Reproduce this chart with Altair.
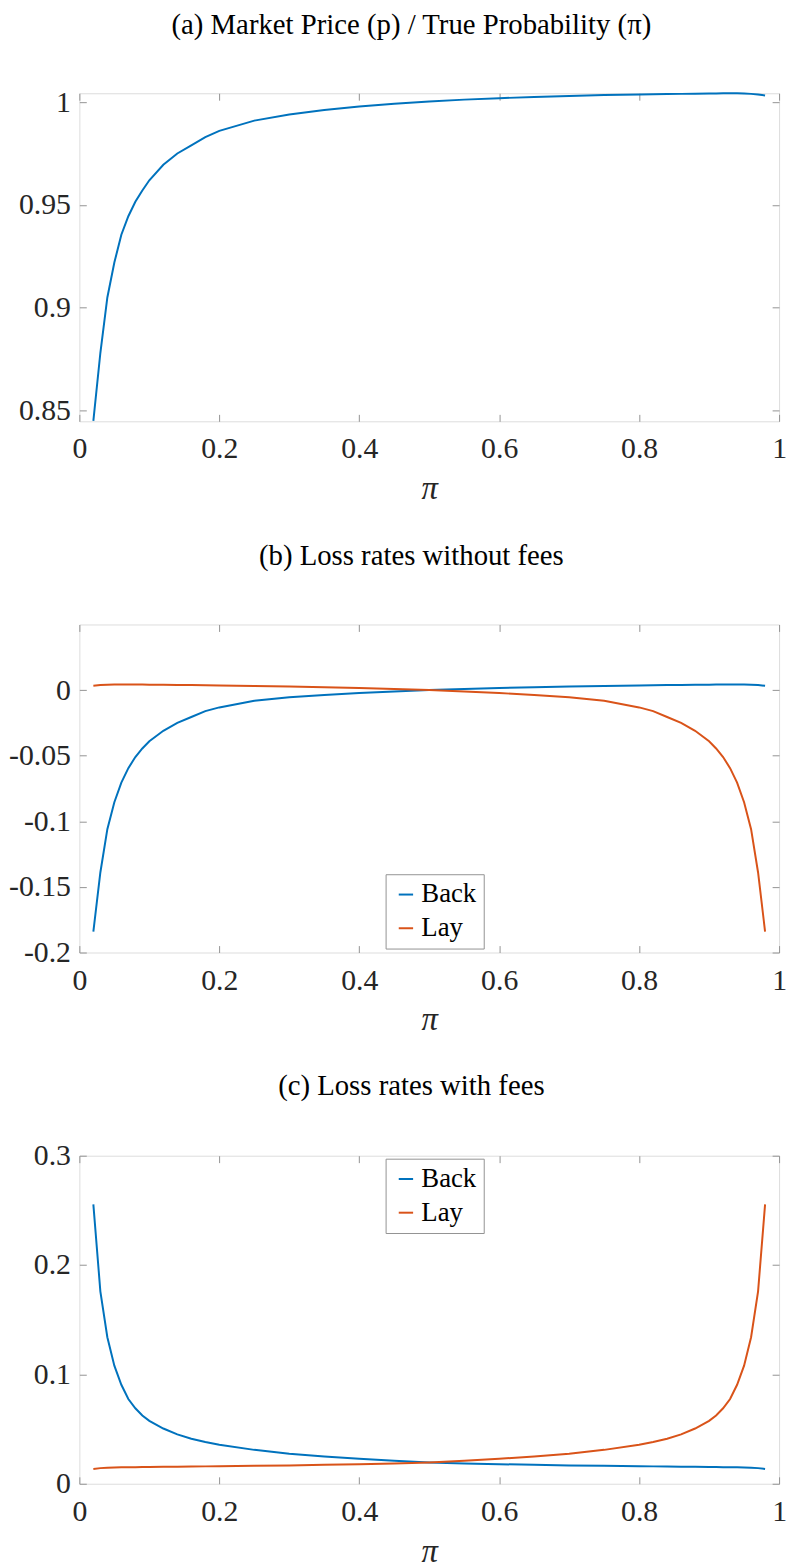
import altair as alt
import pandas as pd

# ---------------- data ----------------
x_vals = [0.02, 0.03, 0.04, 0.05, 0.06, 0.07, 0.08, 0.09, 0.10, 0.12, 0.14, 0.16,
          0.18, 0.20, 0.25, 0.30, 0.35, 0.40, 0.45, 0.50, 0.55, 0.60, 0.65, 0.70,
          0.75, 0.80, 0.82, 0.84, 0.86, 0.88, 0.90, 0.91, 0.92, 0.93, 0.94, 0.95,
          0.96, 0.97, 0.98]

# (a) market price / true probability
ratio = [0.8450, 0.8780, 0.9050, 0.9220, 0.9355, 0.9445, 0.9515, 0.9570, 0.9620,
         0.9695, 0.9750, 0.9790, 0.9830, 0.9860, 0.9910, 0.9940, 0.9962, 0.9979,
         0.9992, 1.0003, 1.0012, 1.0019, 1.0025, 1.0030, 1.0034, 1.0037, 1.0038,
         1.0039, 1.0040, 1.0041, 1.0042, 1.0042, 1.0043, 1.0043, 1.0043, 1.0042,
         1.0040, 1.0037, 1.0032]

# (b) loss rates without fees
back_nofee = [-0.1840, -0.1390, -0.1060, -0.0855, -0.0705, -0.0595, -0.0510, -0.0445,
              -0.0390, -0.0310, -0.0250, -0.0205, -0.0160, -0.0132, -0.0082, -0.0055,
              -0.0038, -0.0022, -0.0010, 0.0000, 0.0009, 0.0016, 0.0022, 0.0027,
              0.0031, 0.0035, 0.0036, 0.0038, 0.0039, 0.0040, 0.0041, 0.0042,
              0.0042, 0.0043, 0.0043, 0.0042, 0.0041, 0.0038, 0.0033]
lay_nofee = [0.0033, 0.0038, 0.0041, 0.0042, 0.0043, 0.0043, 0.0042, 0.0042, 0.0041,
             0.0040, 0.0039, 0.0038, 0.0036, 0.0035, 0.0031, 0.0027, 0.0022, 0.0016,
             0.0009, 0.0000, -0.0010, -0.0022, -0.0038, -0.0055, -0.0082, -0.0132,
             -0.0160, -0.0205, -0.0250, -0.0310, -0.0390, -0.0445, -0.0510, -0.0595,
             -0.0705, -0.0855, -0.1060, -0.1390, -0.1840]

# (c) loss rates with fees
back_fee = [0.2555, 0.1760, 0.1340, 0.1080, 0.0905, 0.0775, 0.0690, 0.0625, 0.0575,
            0.0505, 0.0452, 0.0412, 0.0382, 0.0356, 0.0310, 0.0275, 0.0250, 0.0228,
            0.0210, 0.0195, 0.0186, 0.0179, 0.0173, 0.0168, 0.0164, 0.0160, 0.0159,
            0.0157, 0.0156, 0.0155, 0.0154, 0.0153, 0.0152, 0.0151, 0.0150, 0.0149,
            0.0147, 0.0143, 0.0135]
lay_fee = [0.0135, 0.0143, 0.0147, 0.0149, 0.0150, 0.0151, 0.0152, 0.0153, 0.0154,
           0.0155, 0.0156, 0.0157, 0.0159, 0.0160, 0.0164, 0.0168, 0.0173, 0.0179,
           0.0186, 0.0195, 0.0210, 0.0228, 0.0250, 0.0275, 0.0310, 0.0356, 0.0382,
           0.0412, 0.0452, 0.0505, 0.0575, 0.0625, 0.0690, 0.0775, 0.0905, 0.1080,
           0.1340, 0.1760, 0.2555]

series_names = ["Back", "Lay"]
titles = ["(a) Market Price (p) / True Probability (π)",
          "(b) Loss rates without fees",
          "(c) Loss rates with fees"]
x_ticks = [0, 0.2, 0.4, 0.6, 0.8, 1]
ya_ticks = [0.85, 0.9, 0.95, 1]
yb_ticks = [-0.2, -0.15, -0.1, -0.05, 0]
yc_ticks = [0, 0.1, 0.2, 0.3]

# ---------------- style ----------------
W, H = 706, 331
FONT = "Liberation Serif"
BLUE, ORANGE = "#0072BD", "#D95319"
GRAY = "#939393"
TXT = "#262626"
TICK = 7


def panel(df, title, y_domain, y_ticks, title_offset, color=None, legend_xy=None):
    xs = alt.Scale(domain=[0, 1], nice=False, zero=False)
    ys = alt.Scale(domain=y_domain, nice=False, zero=False)
    lab = "toString(datum.value)"

    x_main = alt.X("x:Q", scale=xs, axis=alt.Axis(
        values=x_ticks, labelExpr=lab, ticks=False, domain=False, grid=False,
        labelFont=FONT, labelFontSize=30, labelColor=TXT, labelPadding=13,
        labelFlush=False, title="π", titleFont=FONT, titleFontSize=33,
        titleFontStyle="italic", titleFontWeight="normal", titleColor=TXT,
        titlePadding=9))
    y_main = alt.Y("y:Q", scale=ys, axis=alt.Axis(
        values=y_ticks, labelExpr=lab, ticks=False, domain=False, grid=False,
        labelFont=FONT, labelFontSize=30, labelColor=TXT, labelPadding=9,
        labelFlush=False, title=None))

    def tick_axis(orient, values, offset):
        return alt.Axis(orient=orient, offset=offset, values=values, labels=False,
                        ticks=True, tickSize=TICK, tickColor=GRAY, tickWidth=1,
                        domain=False, grid=False, title=None)

    enc = dict(x=x_main, y=y_main)
    if color is None:
        main = alt.Chart(df).mark_line(color=BLUE, strokeWidth=2).encode(**enc)
    else:
        lx, ly = legend_xy
        main = alt.Chart(df).mark_line(strokeWidth=2).encode(
            **enc,
            color=alt.Color("series:N",
                            scale=alt.Scale(domain=series_names, range=[BLUE, ORANGE]),
                            legend=alt.Legend(
                                orient="none", legendX=lx, legendY=ly, title=None,
                                symbolType="stroke", symbolSize=210,
                                symbolStrokeWidth=2, labelFont=FONT,
                                labelFontSize=27, labelColor="#000",
                                labelOffset=2, strokeColor=GRAY,
                                fillColor="white", padding=7, rowPadding=6)),
            detail="series:N")

    t1 = alt.Chart(df).mark_line(opacity=0).encode(
        x=alt.X("x:Q", scale=xs, axis=tick_axis("top", x_ticks, -H)),
        y=alt.Y("y:Q", scale=ys, axis=tick_axis("right", y_ticks, -W)))
    t2 = alt.Chart(df).mark_line(opacity=0).encode(
        x=alt.X("x:Q", scale=xs, axis=tick_axis("bottom", x_ticks, -H)),
        y=alt.Y("y:Q", scale=ys, axis=tick_axis("left", y_ticks, -W)))

    return alt.layer(main, t1, t2).resolve_axis(x="independent", y="independent").properties(
        width=W, height=H,
        title=alt.TitleParams(title, font=FONT, fontSize=29, fontWeight="normal",
                              color="#000", anchor="middle", dx=-18, frame="group",
                              baseline="bottom", offset=title_offset))


df_a = pd.DataFrame({"x": x_vals, "y": ratio})
df_b = pd.concat([
    pd.DataFrame({"x": x_vals, "y": back_nofee, "series": "Back"}),
    pd.DataFrame({"x": x_vals, "y": lay_nofee, "series": "Lay"})])
df_c = pd.concat([
    pd.DataFrame({"x": x_vals, "y": back_fee, "series": "Back"}),
    pd.DataFrame({"x": x_vals, "y": lay_fee, "series": "Lay"})])

pa = panel(df_a, titles[0], [0.8448, 1.0043], ya_ticks, 19)
pb = panel(df_b, titles[1], [-0.2, 0.05], yb_ticks, 25, color=True, legend_xy=(309, 252))
pc = panel(df_c, titles[2], [0, 0.3], yc_ticks, 11, color=True, legend_xy=(309, 3))

chart = alt.vconcat(pa, pb, pc, spacing=205, bounds="flush").resolve_scale(
    color="independent"
).properties(
    padding={"left": 0, "top": -5, "right": 0, "bottom": -6}
).configure_view(stroke=GRAY, strokeWidth=1).configure(background="white")

chart.save("out.html", embed_options={"renderer": "svg", "actions": False})
